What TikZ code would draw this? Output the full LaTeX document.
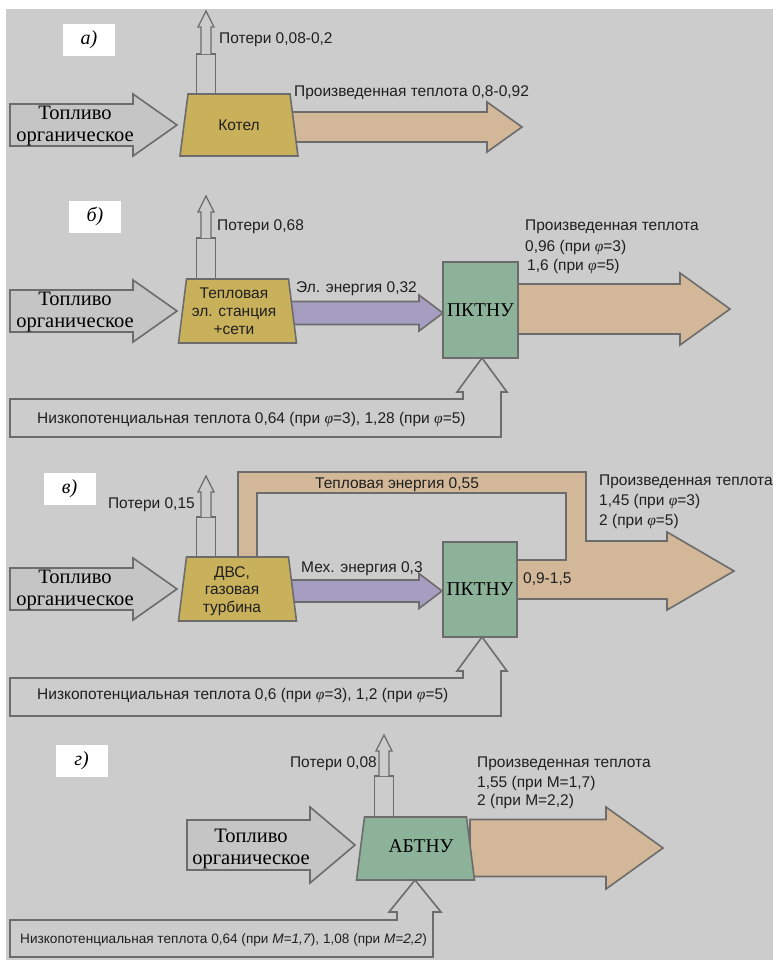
\documentclass[tikz,border=0pt]{standalone}
\usepackage{fontspec}
\setmainfont{Liberation Sans}
\newfontfamily\timesfam{Liberation Serif}
\definecolor{bg}{HTML}{CCCCCC}
\definecolor{edge}{HTML}{6C6C6C}
\definecolor{gold}{HTML}{C9B15C}
\definecolor{tan}{HTML}{D2B898}
\definecolor{lilac}{HTML}{A69EC0}
\definecolor{mint}{HTML}{8DB29A}
\definecolor{fuelgray}{HTML}{C5C5C5}
\newcommand\phii{{\timesfam\itshape φ}}
\newcommand\rblock[7][]{%
  \draw[#1] (#2,{#5-#6}) -- (#3,{#5-#6}) -- (#3,{#5-#7}) -- (#4,#5) -- (#3,{#5+#7}) -- (#3,{#5+#6}) -- (#2,{#5+#6}) -- cycle;}
\newcommand\lossarrow[5]{%
  \draw[thinblk] ({#1-9.5},#2) rectangle ({#1+9.5},#3);
  \draw[thinblk] ({#1-5},#3) -- ({#1-5},#4) -- ({#1-8},#4) -- (#1,#5) -- ({#1+8},#4) -- ({#1+5},#4) -- ({#1+5},#3);}
\newcommand\trap[4][]{%
  \draw[#1] ({#2-51},#3) -- ({#2+51},#3) -- ({#2+59},#4) -- ({#2-59},#4) -- cycle;}
\begin{document}
\begin{tikzpicture}[x=1pt,y=-1pt,line join=miter,
  blk/.style={draw=edge,line width=1.6pt},
  thinblk/.style={draw=edge,line width=1.3pt,fill=bg},
  fuel/.style={blk,fill=fuelgray},
  heat/.style={blk,fill=tan},
  elec/.style={blk,fill=lilac},
  low/.style={blk,fill=bg},
  unit/.style={blk,fill=gold},
  pump/.style={blk,fill=mint,inner sep=0pt,font=\timesfam\fontsize{19.5}{21}\selectfont},
  lbl/.style={font=\fontsize{15.5}{18}\selectfont,inner sep=0pt,text=black!88},
  small/.style={font=\fontsize{13.6}{16}\selectfont,inner sep=0pt,text=black!88},
  serl/.style={font=\timesfam\fontsize{20.5}{22.5}\selectfont,inner sep=0pt,align=center},
  tag/.style={fill=white,minimum width=52pt,minimum height=32pt,inner sep=0pt,font=\timesfam\itshape\fontsize{20}{24}\selectfont}]
\useasboundingbox (0,0) rectangle (773,962);
\fill[white] (0,0) rectangle (773,962);
\fill[bg] (6,9) rectangle (773,960);

% ---------------- panel a
\node[tag] (ta) at (89,40) {а)};
\lossarrow{206}{94}{54}{27}{11}
\node[lbl,anchor=base west] (lossa) at (219,43) {Потери 0,08-0,2};
\rblock[heat]{290}{487}{522}{127}{15}{25}
\rblock[fuel]{10}{133}{177}{125}{21}{31}
\trap[unit]{239}{94}{156}
\node[lbl] (kotel) at (239,125) {Котел};
\node[serl] (fuela) at (75,126) {Топливо\\органическое};
\node[lbl,anchor=base west] (outa) at (294,96) {Произведенная теплота 0,8-0,92};

% ---------------- panel b
\node[tag] (tb) at (95,216.5) {б)};
\lossarrow{206}{279}{238}{212}{196}
\node[lbl,anchor=base west] (lossb) at (217,230) {Потери 0,68};
\rblock[heat]{510}{680}{730}{309}{25}{36}
\rblock[elec]{290}{419}{443}{313}{11.5}{18}
\rblock[fuel]{10}{133}{177}{311}{21}{31}
\trap[unit]{237.5}{279}{343}
\node[lbl,align=center,font=\fontsize{15.5}{18}\selectfont] (tes) at (234,311) {Тепловая\\эл. станция\\+сети};
\node[serl] (fuelb) at (75,312) {Топливо\\органическое};
\node[pump,minimum width=75pt,minimum height=96pt] (pkb) at (480.5,310) {ПКТНУ};
\draw[low] (10,399) -- (463,399) -- (463,392) -- (457,392) -- (482,358) -- (507,392) -- (501,392) -- (501,437) -- (10,437) -- cycle;
\node[lbl,anchor=base west] (lowb) at (37,423) {Низкопотенциальная теплота 0,64 (при \phii=3), 1,28 (при \phii=5)};
\node[lbl,anchor=base west] (elb) at (296,292) {Эл. энергия 0,32};
\node[lbl,anchor=base west] (outb1) at (525,230) {Произведенная теплота};
\node[lbl,anchor=base west] (outb2) at (525,251) {0,96 (при \phii=3)};
\node[lbl,anchor=base west] (outb3) at (527,270) {1,6 (при \phii=5)};

% ---------------- panel c
\node[tag] (tc) at (69.5,489) {в)};
\lossarrow{206}{557}{517}{492}{476}
\node[lbl,anchor=base east] (lossc) at (195,508) {Потери 0,15};
\draw[heat] (238,557) -- (238,472) -- (586,472) -- (586,541) -- (667,541) -- (667,532) -- (734,571) -- (667,610) -- (667,599) -- (517,599) -- (517,560) -- (566,560) -- (566,493) -- (257,493) -- (257,557) -- cycle;
\rblock[elec]{290}{419}{442}{591}{11}{17.5}
\rblock[fuel]{10}{133}{177}{589}{21}{31}
\trap[unit]{237.5}{557}{621}
\node[lbl,align=center,font=\fontsize{15.5}{17.5}\selectfont] (dvs) at (232,591) {ДВС,\\газовая\\турбина};
\node[serl] (fuelc) at (75,590) {Топливо\\органическое};
\node[pump,minimum width=74pt,minimum height=95pt] (pkc) at (480,589.5) {ПКТНУ};
\draw[low] (10,678) -- (463,678) -- (463,671) -- (457,671) -- (482,637) -- (507,671) -- (501,671) -- (501,716) -- (10,716) -- cycle;
\node[lbl,anchor=base west] (lowc) at (37,699) {Низкопотенциальная теплота 0,6 (при \phii=3), 1,2 (при \phii=5)};
\node[lbl,anchor=base west] (heatc) at (315,488) {Тепловая энергия 0,55};
\node[lbl,anchor=base west] (mechc) at (301,572) {Мех. энергия 0,3};
\node[lbl,anchor=base west] (midc) at (523,583) {0,9-1,5};
\node[lbl,anchor=base west] (outc1) at (599,485) {Произведенная теплота};
\node[lbl,anchor=base west] (outc2) at (599,505) {1,45 (при \phii=3)};
\node[lbl,anchor=base west] (outc3) at (599,525) {2 (при \phii=5)};

% ---------------- panel d
\node[tag] (td) at (81.5,761) {г)};
\lossarrow{384}{817}{776}{751}{735}
\node[lbl,anchor=base east] (lossd) at (377,767) {Потери 0,08};
\rblock[heat]{470}{606}{663}{848}{28.5}{41}
\rblock[fuel]{187}{310}{355}{845}{25}{38}
\trap[pump]{415.5}{817}{880}
\node[pump,draw=none,fill=none] (abt) at (421,846) {АБТНУ};
\node[serl] (fueld) at (251,849) {Топливо\\органическое};
\draw[low] (10,920) -- (397,920) -- (397,912) -- (389,912) -- (415,880) -- (441,912) -- (433,912) -- (433,957) -- (10,957) -- cycle;
\node[small,anchor=base west] (lowd) at (20,943) {Низкопотенциальная теплота 0,64 (при \textit{M=1,7}), 1,08 (при \textit{M=2,2})};
\node[lbl,anchor=base west] (outd1) at (477,767) {Произведенная теплота};
\node[lbl,anchor=base west] (outd2) at (477,787) {1,55 (при M=1,7)};
\node[lbl,anchor=base west] (outd3) at (477,805) {2 (при M=2,2)};
\end{tikzpicture}
\end{document}
